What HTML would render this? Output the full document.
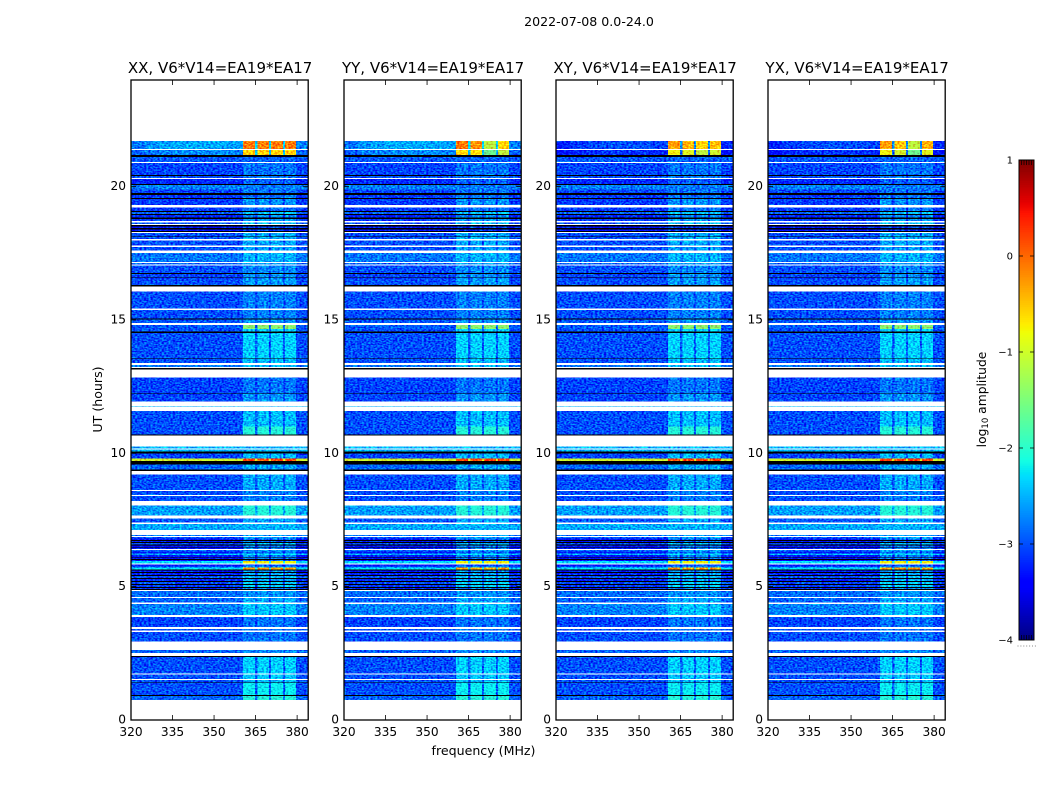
<!DOCTYPE html>
<html lang="en">
<head>
<meta charset="utf-8">
<title>2022-07-08 spectrogram</title>
<style>
html,body{margin:0;padding:0;background:#fff}
svg{display:block}
text{font-family:"DejaVu Sans","Liberation Sans",sans-serif;fill:#000}
</style>
</head>
<body>
<svg id="chart" xmlns="http://www.w3.org/2000/svg" width="1050" height="800" viewBox="0 0 1050 800">
<defs>
<!-- Decorative grain only: heatmap values come from the band arrays below. -->
<filter id="speckle" filterUnits="userSpaceOnUse" x="0" y="0" width="1050" height="800" color-interpolation-filters="sRGB">
<feTurbulence type="fractalNoise" baseFrequency="0.45 0.7" numOctaves="1" seed="3" result="n"/>
<feColorMatrix in="n" type="matrix" values="0 0 0 0 0.5  2.2 0 0 0 -0.6  0.5 0 0 0 0.25  0 0 0 0 1" result="g"/>
<feComposite in="SourceGraphic" in2="g" operator="arithmetic" k1="0" k2="1" k3="0.7" k4="-0.35" result="m"/>
<feComposite in="m" in2="SourceAlpha" operator="in"/>
</filter>
</defs>
<text x="589" y="26" text-anchor="middle" font-size="12.6">2022-07-08 0.0-24.0</text>
<text x="483.5" y="755" text-anchor="middle" font-size="12.6">frequency (MHz)</text>
<text transform="translate(102,399.5) rotate(-90)" text-anchor="middle" font-size="12.6">UT (hours)</text>
<text transform="translate(986,399.5) rotate(-90)" text-anchor="middle" font-size="12.3">log<tspan font-size="8.5" dy="2">10</tspan><tspan dy="-2"> amplitude</tspan></text>
</svg>
<script>
// Panel titles, axis ticks
const panelTitles = ["XX, V6*V14=EA19*EA17", "YY, V6*V14=EA19*EA17", "XY, V6*V14=EA19*EA17", "YX, V6*V14=EA19*EA17"];
const freqTicks = [320, 335, 350, 365, 380];
const hourTicks = [0, 5, 10, 15, 20];
const colorTicks = [1, 0, -1, -2, -3, -4];
const colorTickLabels = ["1", "0", "\u22121", "\u22122", "\u22123", "\u22124"];

// Frequency channels (MHz edges); weight 1 = inside a bright window
const channelEdges = [320, 325, 330, 335, 340, 345, 350, 355, 360.5, 364.8, 365.7, 369.8, 370.5, 374.9, 375.7, 379.6, 384];
const channelWeight = [0, 0, 0, 0, 0, 0, 0, 0, 1, 0.1, 1, 0.1, 1, 0.1, 1, 0];
const channelWindow = [-1, -1, -1, -1, -1, -1, -1, -1, 0, -1, 1, -1, 2, -1, 3, -1];
const channelSkyTilt = [0.5, 0.8, 0.9, 1, 1, 1, 1, 0.9, 1, 1, 1, 1, 1, 1, 1, 0.6];

// Time bands: top hour of each band (each ends where the next begins)
const bandTop = [
21.71,21.41,21.38,21.19,21.12,20.93,20.89,20.44,20.40,20.33,
20.29,20.10,20.06,19.89,19.76,19.69,19.58,19.54,19.31,19.22,
19.09,19.05,18.98,18.94,18.84,18.79,18.71,18.66,18.60,18.56,
18.51,18.45,18.39,18.34,18.30,18.26,18.13,18.11,18.04,17.98,
17.79,17.74,17.60,17.52,17.18,17.14,17.08,17.04,16.76,16.73,
16.62,16.59,16.54,16.31,16.25,16.06,15.43,15.38,15.06,15.01,
14.88,14.81,14.66,14.57,14.52,13.56,13.53,13.38,13.31,13.23,
13.20,13.15,12.84,12.25,12.23,11.94,11.75,11.73,11.59,11.00,
10.71,10.66,10.25,10.19,10.14,10.06,10.00,9.81,9.72,9.59,
9.40,9.34,9.21,8.63,8.58,8.44,8.40,8.21,8.04,7.66,
7.56,7.41,7.35,7.13,6.94,6.90,6.86,6.81,6.75,6.71,
6.68,6.64,6.58,6.54,6.49,6.46,6.42,6.38,6.31,6.24,
6.19,6.12,6.09,6.04,6.00,5.96,5.87,5.84,5.75,5.71,
5.65,5.60,5.55,5.51,5.44,5.40,5.33,5.29,5.21,5.18,
5.10,5.06,4.99,4.95,4.91,4.88,4.84,4.62,4.58,4.40,
4.35,3.94,3.86,3.48,3.42,3.35,3.30,2.94,2.63,2.52,
2.40,2.36,1.75,1.70,1.54,1.50,1.40,1.38,0.94,0.90];
const lastBandBottom = 0.75;

// log10 amplitude outside the windows; null = flagged (white), -9 = zero (black)
const bandBase = [
-2.55,null,-2.7,-9,-2.95,null,-3.05,-9,-3.0,null,
-3.2,-9,-2.75,-3.05,-9,-3.1,-9,-3.1,null,-3.1,
-9,-2.9,-9,-3.2,-9,-3.1,null,-3.0,null,-9,
-3.3,-9,-3.4,-9,null,-3.0,-9,-3.0,null,-3.0,
null,-3.0,null,-2.8,null,-2.9,null,-3.0,-9,-3.05,
-9,-3.1,-3.0,-9,null,-3.0,null,-3.0,-9,-2.95,
null,-2.95,-3.0,-9,-3.0,-9,-3.0,null,-2.8,null,
-9,null,-3.05,-9,-3.05,null,-2.5,null,-3.0,-3.0,
-9,null,-2.5,null,-2.5,-9,-3.05,-1.0,-9,-2.9,
-9,null,-3.0,null,-3.0,null,-3.0,null,-2.6,null,
-2.95,null,-2.55,null,-2.8,null,-3.0,-3.3,-9,-3.3,
-9,-3.0,-9,-3.3,-9,-3.3,null,-2.9,-3.3,-2.5,
-3.3,-9,-3.3,-9,-3.3,-2.3,null,-3.3,-2.9,-2.3,
-9,-3.3,-9,-3.2,-9,-3.0,-9,-3.2,-9,-3.0,
-9,-3.1,-9,-3.2,-9,null,-2.85,null,-2.9,null,
-2.75,null,-3.05,null,-3.0,null,-3.0,null,-2.9,null,
-9,-3.0,null,-3.0,null,-3.0,-9,-3.0,-9,-2.9];

// log10 amplitude inside the windows (same band order)
const bandWindow = [
-0.1,null,-0.6,-9,-2.9,null,-2.8,-9,-2.8,null,
-2.9,-9,-2.8,-2.8,-9,-2.8,-9,-2.65,null,-2.8,
-9,-2.4,-9,-2.7,-9,-2.6,null,-2.4,null,-9,
-3.0,-9,-3.1,-9,null,-2.55,-9,-2.5,null,-2.55,
null,-2.6,null,-2.5,null,-2.6,null,-2.7,-9,-2.65,
-9,-2.7,-2.6,-9,null,-2.75,null,-2.75,-9,-2.65,
null,-1.4,-2.35,-9,-2.35,-9,-2.45,null,-2.45,null,
-9,null,-2.8,-9,-2.65,null,-2.5,null,-2.45,-2.05,
-9,null,-2.5,null,-2.5,-9,-2.45,0.2,-9,-2.55,
-9,null,-2.55,null,-2.75,null,-2.75,null,-2.05,null,
-2.55,null,-2.5,null,-2.6,null,-2.55,-2.85,-9,-2.85,
-9,-2.45,-9,-2.75,-9,-2.75,null,-2.55,-2.85,-2.25,
-2.75,-9,-2.75,-9,-2.85,-0.8,null,-2.95,-2.55,-0.3,
-9,-2.65,-9,-2.55,-9,-2.45,-9,-2.55,-9,-2.35,
-9,-2.35,-9,-2.65,-9,null,-2.65,null,-2.55,null,
-2.4,null,-2.8,null,-2.8,null,-2.8,null,-2.7,null,
-9,-2.35,null,-2.4,null,-2.45,-9,-2.2,-9,-2.05];

// Bright top bands and how each polarisation panel differs there
const skyBands = [0, 2];
const panelSkyShift = [0, 0, -0.45, -0.45];
const panelSkyWindowShift = [[0, 0, 0, 0], [0, -0.1, -1.0, -0.5], [-0.2, -0.3, -0.5, -0.4], [-0.2, -0.4, -1.0, -0.3]];

// Layout
const SVGNS = "http://www.w3.org/2000/svg";
const svg = document.getElementById("chart");
const panelLeft = [131, 344, 556, 768];
const plotTop = 80, plotBottom = 720, plotWidth = 177.2;
const PX_PER_MHZ = plotWidth / 64, PX_PER_HOUR = (plotBottom - plotTop) / 24;
const xScale = (p, f) => panelLeft[p] + (f - 320) * PX_PER_MHZ;
const yScale = h => plotBottom - h * PX_PER_HOUR;
const cbLeft = 1019, cbRight = 1034, cbTop = 160, cbBottom = 640;
const cbScale = v => cbBottom - (v + 4) / 5 * (cbBottom - cbTop);

function interp(t, pts) {
  for (let i = 1; i < pts.length; i++) {
    if (t <= pts[i][0]) {
      const a = pts[i - 1], b = pts[i];
      return a[1] + (b[1] - a[1]) * (t - a[0]) / (b[0] - a[0]);
    }
  }
  return pts[pts.length - 1][1];
}
function jet(level) {
  const t = Math.max(0, Math.min(1, (level + 4) / 5));
  const r = interp(t, [[0, 0], [0.35, 0], [0.66, 1], [0.89, 1], [1, 0.5]]);
  const g = interp(t, [[0, 0], [0.125, 0], [0.375, 1], [0.64, 1], [0.91, 0], [1, 0]]);
  const b = interp(t, [[0, 0.5], [0.11, 1], [0.34, 1], [0.65, 0], [1, 0]]);
  return "rgb(" + Math.round(r * 255) + "," + Math.round(g * 255) + "," + Math.round(b * 255) + ")";
}
function make(tag, parent, attrs) {
  const el = document.createElementNS(SVGNS, tag);
  for (const k in attrs) el.setAttribute(k, attrs[k]);
  parent.appendChild(el);
  return el;
}

panelTitles.forEach((title, p) => {
  const panel = make("g", svg, {});
  
  

  const cells = make("g", panel, { filter: "url(#speckle)", "shape-rendering": "crispEdges" });
  
  
  const zeros = make("g", panel, { "shape-rendering": "crispEdges" });
  
  

  bandTop.forEach((top, b) => {
    const base = bandBase[b];
    if (base === null) return;
    const bottom = b + 1 < bandTop.length ? bandTop[b + 1] : lastBandBottom;
    const y = yScale(top), h = yScale(bottom) - y;
    if (base <= -4) {
      const row = make("rect", zeros, { x: xScale(p, 320), y: y, width: plotWidth, height: h, fill: "#000" });
      
      
      return;
    }
    const sky = skyBands.includes(b);
    channelWeight.forEach((w, c) => {
      let bg = base, win = bandWindow[b];
      if (sky) {
        bg = base + panelSkyShift[p] - (1 - channelSkyTilt[c]) * 0.5;
        if (channelWindow[c] >= 0) win += panelSkyWindowShift[p][channelWindow[c]];
      }
      const level = bg + w * (win - bg);
      const x0 = xScale(p, channelEdges[c]), x1 = xScale(p, channelEdges[c + 1]);
      const cell = make("rect", cells, { x: x0, y: y, width: x1 - x0, height: h, fill: jet(level) });
      
      
    });
  });

  const L = panelLeft[p], R = L + plotWidth;
  const frame = make("rect", panel, { x: L, y: plotTop, width: plotWidth, height: plotBottom - plotTop, fill: "none", stroke: "#000", "stroke-width": 1.3 });
  
  

  const ttl = make("text", panel, { x: L + plotWidth / 2 + 0.5, y: 73, "text-anchor": "middle", "font-size": 15 });
  ttl.textContent = title;
  
  

  freqTicks.forEach(f => {
    const x = xScale(p, f);
    const t = make("path", panel, { d: "M" + x + " " + plotBottom + "v-5M" + x + " " + plotTop + "v5", stroke: "#000", "stroke-width": 0.8, fill: "none" });
    
    
    const lab = make("text", panel, { x: x, y: 736, "text-anchor": "middle", "font-size": 12.2 });
    lab.textContent = f;
    
    
  });
  hourTicks.forEach(h => {
    const y = yScale(h);
    const t = make("path", panel, { d: "M" + L + " " + y + "h5M" + R + " " + y + "h-5", stroke: "#000", "stroke-width": 0.8, fill: "none" });
    
    
    const lab = make("text", panel, { x: L - 5, y: y + 3.5, "text-anchor": "end", "font-size": 12.2 });
    lab.textContent = h;
    
    
  });
});

// Colorbar
const cb = make("g", svg, {});


const cbRamp = make("g", cb, { "shape-rendering": "crispEdges" });


for (let i = 0; i < 256; i++) {
  const lo = -4 + 5 * i / 256, hi = -4 + 5 * (i + 1) / 256;
  const seg = make("rect", cbRamp, { x: cbLeft, y: cbScale(hi), width: cbRight - cbLeft, height: cbScale(lo) - cbScale(hi) + 0.5, fill: jet((lo + hi) / 2) });
  
  
}
const cbFrame = make("rect", cb, { x: cbLeft, y: cbTop, width: cbRight - cbLeft, height: cbBottom - cbTop, fill: "none", stroke: "#000", "stroke-width": 1 });


colorTicks.forEach((v, i) => {
  const y = cbScale(v);
  const t = make("path", cb, { d: "M" + cbLeft + " " + y + "h4M" + cbRight + " " + y + "h-4", stroke: "#000", "stroke-width": 0.8, fill: "none" });
  
  
  const lab = make("text", cb, { x: 1013, y: y + 3.5, "text-anchor": "end", "font-size": 10 });
  lab.textContent = colorTickLabels[i];
  
  
});
for (let i = 1; i < 6; i++) {
  const x = cbLeft + i * (cbRight - cbLeft) / 6;
  const t = make("path", cb, { d: "M" + x + " " + cbTop + "v5M" + x + " " + cbBottom + "v-5", stroke: "#000", "stroke-width": 0.7, fill: "none" });
  
  
}
for (let i = 0; i < 7; i++) {
  const dot = make("rect", cb, { x: 1017.5 + i * 2.9, y: 645.5, width: 1, height: 1, fill: "#888" });
  
  
}
</script>
</body>
</html>
